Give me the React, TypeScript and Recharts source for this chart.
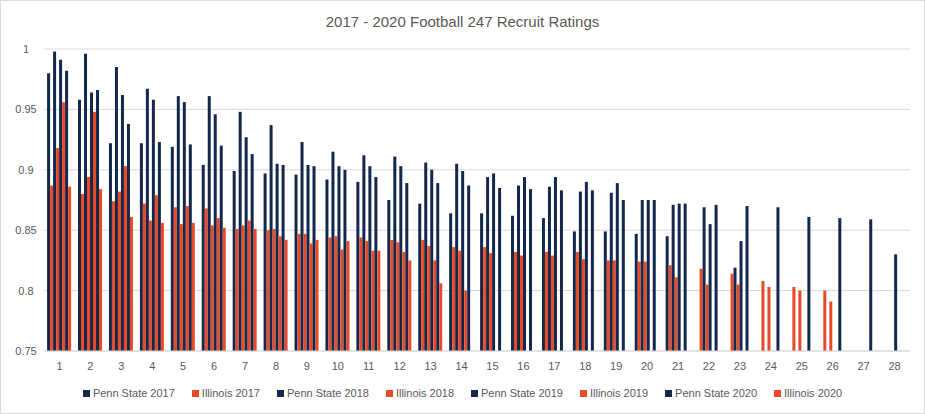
import React from "react";
import { BarChart, Bar, XAxis, YAxis, CartesianGrid } from "recharts";

const NAVY = "#14284B";
const ORANGE = "#E84A27";
const TEXT = "#595959";
const FONT = "'Liberation Sans', Arial, sans-serif";

const ranks = Array.from({ length: 28 }, (_, i) => String(i + 1));

const pennState2017 = [0.98, 0.958, 0.922, 0.922, 0.919, 0.904, 0.899, 0.897, 0.896, 0.892, 0.89, 0.875, 0.872, 0.864, 0.864, 0.862, 0.86, 0.849, 0.849, 0.847, 0.845, null, null, null, null, null, null, null];
const illinois2017 = [0.887, 0.88, 0.874, 0.872, 0.869, 0.868, 0.851, 0.85, 0.847, 0.844, 0.844, 0.842, 0.842, 0.836, 0.836, 0.832, 0.832, 0.832, 0.825, 0.824, 0.821, 0.818, 0.814, 0.808, 0.803, 0.8, null, null];
const pennState2018 = [0.998, 0.996, 0.985, 0.967, 0.961, 0.961, 0.948, 0.937, 0.923, 0.915, 0.912, 0.911, 0.906, 0.905, 0.894, 0.887, 0.886, 0.882, 0.881, 0.875, 0.871, 0.869, 0.819, null, null, null, null, null];
const illinois2018 = [0.918, 0.894, 0.882, 0.858, 0.855, 0.854, 0.854, 0.851, 0.847, 0.845, 0.841, 0.84, 0.837, 0.833, 0.831, 0.829, 0.829, 0.826, 0.825, 0.824, 0.811, 0.805, 0.805, 0.803, 0.8, 0.791, null, null];
const pennState2019 = [0.991, 0.964, 0.962, 0.958, 0.956, 0.946, 0.927, 0.905, 0.904, 0.903, 0.903, 0.903, 0.9, 0.899, 0.897, 0.894, 0.894, 0.89, 0.889, 0.875, 0.872, 0.855, 0.841, null, null, null, null, 0.83];
const illinois2019 = [0.956, 0.948, 0.903, 0.879, 0.87, 0.86, 0.858, 0.845, 0.839, 0.834, 0.833, 0.832, 0.825, 0.8, null, null, null, null, null, null, null, null, null, null, null, null, null, null];
const pennState2020 = [0.982, 0.966, 0.938, 0.923, 0.921, 0.92, 0.913, 0.904, 0.903, 0.9, 0.894, 0.889, 0.889, 0.887, 0.885, 0.884, 0.883, 0.883, 0.875, 0.875, 0.872, 0.871, 0.87, 0.869, 0.861, 0.86, 0.859, null];
const illinois2020 = [0.886, 0.884, 0.861, 0.856, 0.856, 0.852, 0.851, 0.842, 0.842, 0.841, 0.833, 0.825, 0.806, null, null, null, null, null, null, null, null, null, null, null, null, null, null, null];

const yTicks = [0.75, 0.8, 0.85, 0.9, 0.95, 1];

const series = [
  { key: "ps2017", name: "Penn State 2017", values: pennState2017, color: NAVY },
  { key: "il2017", name: "Illinois 2017", values: illinois2017, color: ORANGE },
  { key: "ps2018", name: "Penn State 2018", values: pennState2018, color: NAVY },
  { key: "il2018", name: "Illinois 2018", values: illinois2018, color: ORANGE },
  { key: "ps2019", name: "Penn State 2019", values: pennState2019, color: NAVY },
  { key: "il2019", name: "Illinois 2019", values: illinois2019, color: ORANGE },
  { key: "ps2020", name: "Penn State 2020", values: pennState2020, color: NAVY },
  { key: "il2020", name: "Illinois 2020", values: illinois2020, color: ORANGE },
];

const data = ranks.map((rank, i) => {
  const row: Record<string, string | number | null> = { rank };
  series.forEach((s) => {
    row[s.key] = s.values[i];
  });
  return row;
});

export default function App() {
  return (
    <div
      style={{
        position: "relative",
        width: 925,
        height: 414,
        border: "1px solid #D9D9D9",
        boxSizing: "border-box",
        background: "white",
        fontFamily: FONT,
      }}
    >
      <style>{`body{margin:0}`}</style>
      <div
        style={{
          position: "absolute",
          top: 12,
          left: 0,
          width: "100%",
          textAlign: "center",
          fontSize: 15,
          color: TEXT,
        }}
      >
        2017 - 2020 Football 247 Recruit Ratings
      </div>
      <BarChart
        width={923}
        height={412}
        data={data}
        margin={{ top: 48, right: 14, left: 0, bottom: 42 }}
        barCategoryGap="10%"
        barGap={0}
      >
        <CartesianGrid vertical={false} stroke="#D9D9D9" />
        <XAxis
          dataKey="rank"
          height={20}
          tick={{ fontSize: 11, fill: TEXT, fontFamily: FONT }}
          tickLine={false}
          axisLine={{ stroke: "#D9D9D9" }}
          tickMargin={5}
          interval={0}
        />
        <YAxis
          width={43}
          domain={[0.75, 1]}
          ticks={yTicks}
          tick={{ fontSize: 11, fill: TEXT, fontFamily: FONT, textAnchor: "middle", dx: -10 }}
          tickLine={false}
          axisLine={false}
          allowDataOverflow
          tickFormatter={(v) => String(v)}
        />
        {series.map((s) => (
          <Bar key={s.key} dataKey={s.key} name={s.name} fill={s.color} isAnimationActive={false} />
        ))}
      </BarChart>
      <div
        style={{
          position: "absolute",
          top: 386,
          left: 0,
          width: "100%",
          display: "flex",
          justifyContent: "center",
          gap: 17,
          fontSize: 11,
          color: TEXT,
        }}
      >
        {series.map((s) => (
          <div key={s.key} style={{ display: "flex", alignItems: "center" }}>
            <span style={{ display: "inline-block", width: 7, height: 7, background: s.color, marginRight: 3 }} />
            {s.name}
          </div>
        ))}
      </div>
    </div>
  );
}
